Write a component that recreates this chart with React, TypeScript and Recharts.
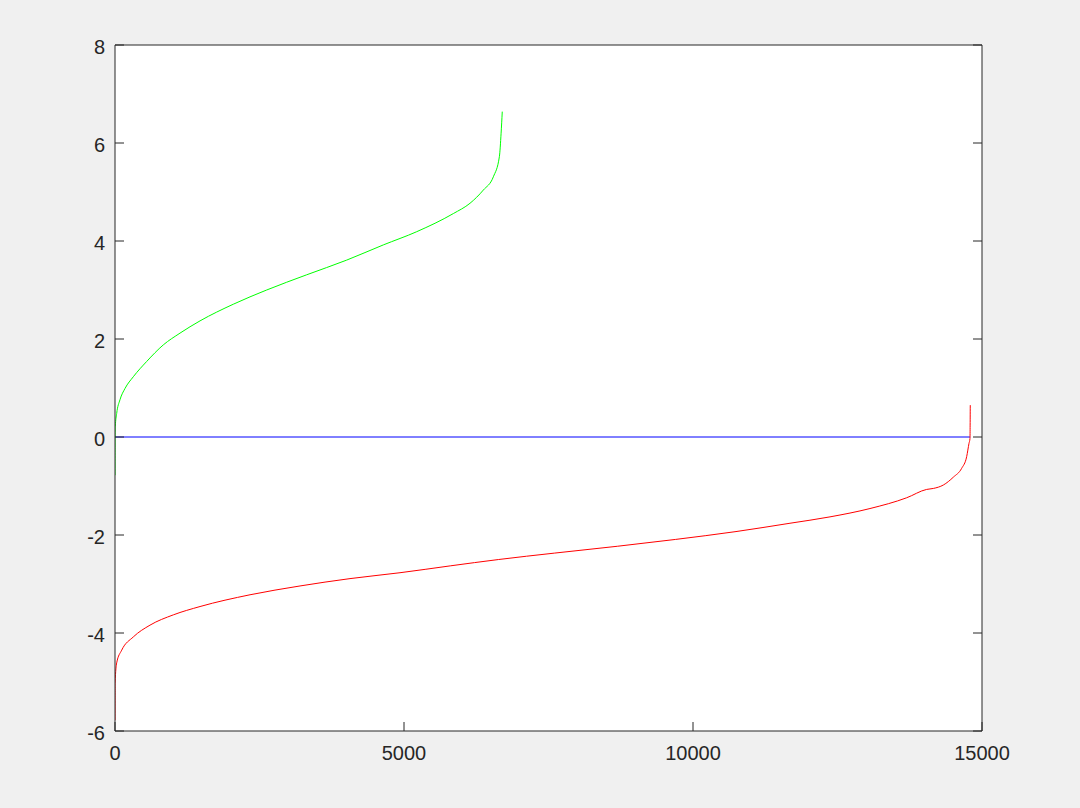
import { CartesianGrid, Line, LineChart, XAxis, YAxis } from "recharts";

const INK = "#262626";
const FONT = "'Liberation Sans', Arial, Helvetica, sans-serif";
const TICK_LEN = 9;

const X_TICKS = [0, 5000, 10000, 15000];
const Y_TICKS = [-6, -4, -2, 0, 2, 4, 6, 8];

// green curve (positive scores, sorted)
const GREEN_X = [0, 1, 5, 29, 86, 173, 317, 547, 836, 1125, 1471, 2047, 2624, 3316, 4008, 4642, 5220, 5854, 6142, 6373, 6546, 6650, 6680, 6700];
const GREEN_Y = [-0.78, 0, 0.21, 0.48, 0.76, 0.99, 1.23, 1.54, 1.88, 2.12, 2.37, 2.71, 3.0, 3.31, 3.61, 3.92, 4.19, 4.56, 4.77, 5.04, 5.31, 5.72, 6.2, 6.64];

// red curve (negative scores, sorted)
const RED_X = [0, 2, 29, 116, 317, 605, 1009, 1471, 2336, 3201, 4066, 4931, 5800, 6638, 7600, 8690, 9700, 10744, 11678, 12370, 13062, 13697, 14042, 14158, 14331, 14504, 14648, 14735, 14775, 14792, 14797];
const RED_Y = [-5.78, -5.02, -4.61, -4.35, -4.08, -3.84, -3.63, -3.46, -3.22, -3.04, -2.89, -2.77, -2.63, -2.5, -2.37, -2.23, -2.09, -1.93, -1.76, -1.63, -1.46, -1.24, -1.07, -1.05, -0.98, -0.82, -0.64, -0.4, -0.13, -0.03, 0.65];

// zero line
const BLUE_X = [0, 14797];
const BLUE_Y = [0, 0];

const toPoints = (xs: number[], ys: number[]) => xs.map((x, i) => ({ x, y: ys[i] }));

const greenData = toPoints(GREEN_X, GREEN_Y);
const redData = toPoints(RED_X, RED_Y);
const blueData = toPoints(BLUE_X, BLUE_Y);

function BottomTick({ x, y, payload }: any) {
  return (
    <g>
      <line x1={x} y1={y} x2={x} y2={y - TICK_LEN} stroke={INK} />
      <text x={x} y={y + 29} textAnchor="middle" fill={INK} fontSize={20} fontFamily={FONT}>
        {payload.value}
      </text>
    </g>
  );
}

function TopTick({ x, y }: any) {
  return <line x1={x} y1={y} x2={x} y2={y + TICK_LEN} stroke={INK} />;
}

function LeftTick({ x, y, payload }: any) {
  return (
    <g>
      <line x1={x} y1={y} x2={x + TICK_LEN} y2={y} stroke={INK} />
      <text x={x - 10} y={y + 9} textAnchor="end" fill={INK} fontSize={20} fontFamily={FONT}>
        {payload.value}
      </text>
    </g>
  );
}

function RightTick({ x, y }: any) {
  return <line x1={x} y1={y} x2={x - TICK_LEN} y2={y} stroke={INK} />;
}

export default function App() {
  return (
    <div
      style={{
        position: "absolute",
        left: 0,
        top: 0,
        width: 1080,
        height: 808,
        background: "#f0f0f0",
      }}
    >
      <LineChart
        width={1080}
        height={808}
        margin={{ top: 44, right: 97, bottom: 47, left: 75 }}
      >
        <CartesianGrid fill="#ffffff" horizontal={false} vertical={false} />
        <XAxis
          type="number"
          dataKey="x"
          domain={[0, 15000]}
          ticks={X_TICKS}
          interval={0}
          allowDataOverflow
          height={30}
          tickSize={0}
          tickMargin={0}
          tick={<BottomTick />}
          axisLine={{ stroke: INK }}
        />
        <XAxis
          xAxisId="top"
          orientation="top"
          type="number"
          domain={[0, 15000]}
          ticks={X_TICKS}
          interval={0}
          allowDataOverflow
          height={1}
          tickSize={0}
          tickMargin={0}
          tick={<TopTick />}
          axisLine={{ stroke: INK }}
        />
        <YAxis
          type="number"
          domain={[-6, 8]}
          ticks={Y_TICKS}
          interval={0}
          allowDataOverflow
          width={40}
          tickSize={0}
          tickMargin={0}
          tick={<LeftTick />}
          axisLine={{ stroke: INK }}
        />
        <YAxis
          yAxisId="right"
          orientation="right"
          type="number"
          domain={[-6, 8]}
          ticks={Y_TICKS}
          interval={0}
          allowDataOverflow
          width={1}
          tickSize={0}
          tickMargin={0}
          tick={<RightTick />}
          axisLine={{ stroke: INK }}
        />
        <Line
          data={blueData}
          dataKey="y"
          type="linear"
          stroke="#0000ff"
          strokeWidth={1}
          dot={false}
          activeDot={false}
          isAnimationActive={false}
        />
        <Line
          data={greenData}
          dataKey="y"
          type="monotoneX"
          stroke="#00ff00"
          strokeWidth={1}
          dot={false}
          activeDot={false}
          isAnimationActive={false}
        />
        <Line
          data={redData}
          dataKey="y"
          type="monotoneX"
          stroke="#ff0000"
          strokeWidth={1}
          dot={false}
          activeDot={false}
          isAnimationActive={false}
        />
      </LineChart>
    </div>
  );
}
